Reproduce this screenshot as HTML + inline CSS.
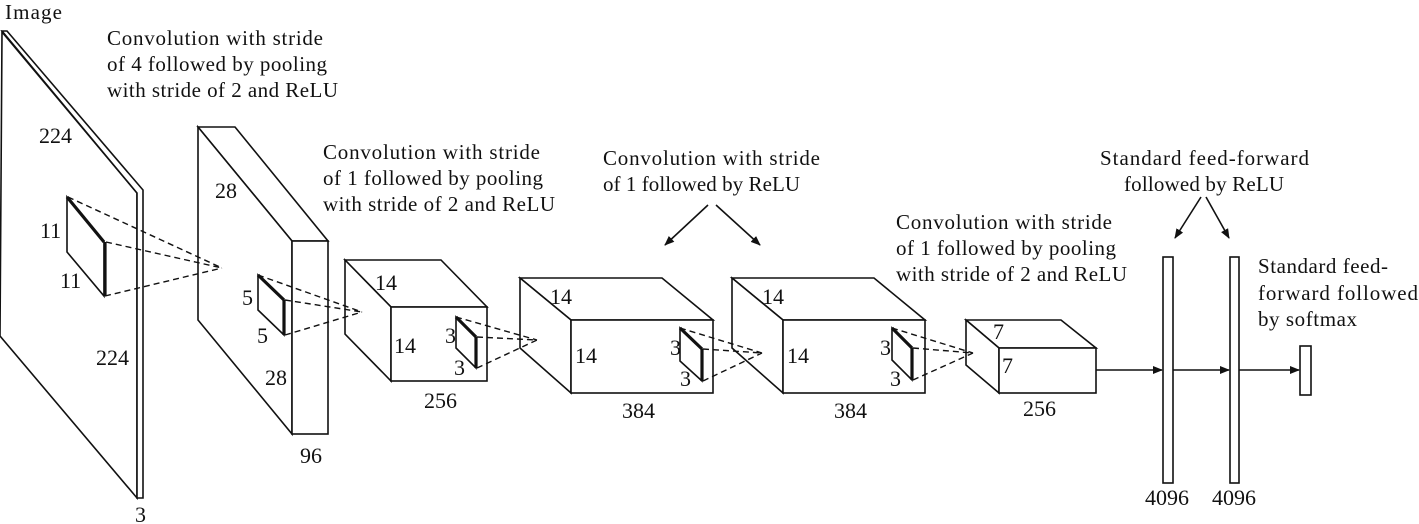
<!DOCTYPE html>
<html><head><meta charset="utf-8"><style>
html,body{margin:0;padding:0;background:#fff;}
svg{display:block;}
text{font-family:"Liberation Serif",serif;font-size:21px;fill:#111;}
text.n{font-size:22px;}
</style></head><body>
<svg width="1419" height="524" viewBox="0 0 1419 524" xmlns="http://www.w3.org/2000/svg">
<defs><marker id="a" markerWidth="10" markerHeight="8" refX="9" refY="4" orient="auto" markerUnits="userSpaceOnUse"><path d="M0,0 L10,4 L0,8 z" fill="#111"/></marker></defs>
<g fill="#fff" stroke="#111" stroke-width="1.6" stroke-linejoin="miter">
<polygon points="2,32 137,193 137,498 0,336"/>
<polygon points="2,31 7,31 143,190 143,498 137,498 137,193"/>
<polygon points="67,197 104,242 104,296 67,252"/>
<polygon points="198,127 235,127 328,241 292,241"/>
<polygon points="198,127 292,241 292,434 198,320"/>
<rect x="292" y="241" width="36" height="193"/>
<polygon points="258,275 284,300 284,335 258,310"/>
<polygon points="345,260 441,260 487,307 391,307"/>
<polygon points="345,260 391,307 391,381 345,334"/>
<rect x="391" y="307" width="96" height="74"/>
<polygon points="456,317 476,337 476,368 456,348"/>
<polygon points="520,278 662,278 713,320 571,320"/>
<polygon points="520,278 571,320 571,393 520,348"/>
<rect x="571" y="320" width="142" height="73"/>
<polygon points="680,328 702,349 702,381 680,361"/>
<polygon points="732,278 874,278 925,320 783,320"/>
<polygon points="732,278 783,320 783,393 732,348"/>
<rect x="783" y="320" width="142" height="73"/>
<polygon points="892,328 912,348 912,380 892,360"/>
<polygon points="966,320 1061,320 1096,348 999,348"/>
<polygon points="966,320 999,348 999,393 966,365"/>
<rect x="999" y="348" width="97" height="45"/>
<rect x="1163" y="257" width="10" height="226"/>
<rect x="1230" y="257" width="9" height="226"/>
<rect x="1300" y="346" width="11" height="49"/>
</g>
<g stroke="#111" stroke-width="3.2">
<line x1="67" y1="197" x2="104" y2="242"/><line x1="105" y1="242" x2="105" y2="296"/>
<line x1="258" y1="275" x2="284" y2="300"/><line x1="284" y1="300" x2="284" y2="335"/>
<line x1="456" y1="317" x2="476" y2="337"/><line x1="476" y1="337" x2="476" y2="368"/>
<line x1="680" y1="328" x2="702" y2="349"/><line x1="702" y1="349" x2="702" y2="381"/>
<line x1="892" y1="328" x2="912" y2="348"/><line x1="912" y1="348" x2="912" y2="380"/>
</g>
<g stroke="#111" stroke-width="1.4" stroke-dasharray="6,4" fill="none">
<path d="M68,197 L222,268 M106,242 L222,268 M105,296 L222,268"/>
<path d="M258,275 L362,312 M285,300 L362,312 M285,335 L362,312"/>
<path d="M456,317 L537,340 M477,337 L537,340 M477,368 L537,340"/>
<path d="M680,328 L762,353 M703,349 L762,353 M703,381 L762,353"/>
<path d="M892,328 L973,353 M913,348 L973,353 M913,380 L973,353"/>
</g>
<g stroke="#111" stroke-width="1.6" fill="none" marker-end="url(#a)">
<line x1="1096" y1="370" x2="1162" y2="370"/>
<line x1="1173" y1="370" x2="1229" y2="370"/>
<line x1="1239" y1="370" x2="1299" y2="370"/>
<line x1="708" y1="205" x2="665" y2="245"/>
<line x1="716" y1="205" x2="760" y2="245"/>
<line x1="1201" y1="197" x2="1175" y2="238"/>
<line x1="1206" y1="197" x2="1229" y2="238"/>
</g>
<g>
<text x="5" y="19" textLength="57">Image</text>
<text class="n" x="39" y="143">224</text>
<text class="n" x="96" y="365">224</text>
<text class="n" x="135" y="522">3</text>
<text class="n" x="40" y="238">11</text>
<text class="n" x="60" y="288">11</text>
<text class="n" x="215" y="198">28</text>
<text class="n" x="265" y="385">28</text>
<text class="n" x="300" y="463">96</text>
<text class="n" x="242" y="305">5</text>
<text class="n" x="257" y="343">5</text>
<text class="n" x="375" y="290">14</text>
<text class="n" x="394" y="353">14</text>
<text class="n" x="424" y="408">256</text>
<text class="n" x="445" y="343">3</text>
<text class="n" x="454" y="375">3</text>
<text class="n" x="550" y="304">14</text>
<text class="n" x="575" y="363">14</text>
<text class="n" x="622" y="418">384</text>
<text class="n" x="670" y="355">3</text>
<text class="n" x="680" y="386">3</text>
<text class="n" x="762" y="304">14</text>
<text class="n" x="787" y="363">14</text>
<text class="n" x="834" y="418">384</text>
<text class="n" x="880" y="355">3</text>
<text class="n" x="890" y="386">3</text>
<text class="n" x="993" y="339">7</text>
<text class="n" x="1002" y="373">7</text>
<text class="n" x="1023" y="416">256</text>
<text class="n" x="1145" y="505">4096</text>
<text class="n" x="1212" y="505">4096</text>
<text x="107" y="45" textLength="216">Convolution with stride</text>
<text x="107" y="71" textLength="220">of 4 followed by pooling</text>
<text x="107" y="97" textLength="231">with stride of 2 and ReLU</text>
<text x="323" y="159" textLength="217">Convolution with stride</text>
<text x="323" y="185" textLength="220">of 1 followed by pooling</text>
<text x="323" y="211" textLength="232">with stride of 2 and ReLU</text>
<text x="603" y="165" textLength="217">Convolution with stride</text>
<text x="603" y="191" textLength="197">of 1 followed by ReLU</text>
<text x="896" y="229" textLength="216">Convolution with stride</text>
<text x="896" y="255" textLength="220">of 1 followed by pooling</text>
<text x="896" y="281" textLength="231">with stride of 2 and ReLU</text>
<text x="1100" y="165" textLength="209">Standard feed-forward</text>
<text x="1124" y="191" textLength="160">followed by ReLU</text>
<text x="1258" y="273" textLength="130">Standard feed-</text>
<text x="1258" y="300" textLength="160">forward followed</text>
<text x="1258" y="326" textLength="99">by softmax</text>
</g>
</svg>
</body></html>
